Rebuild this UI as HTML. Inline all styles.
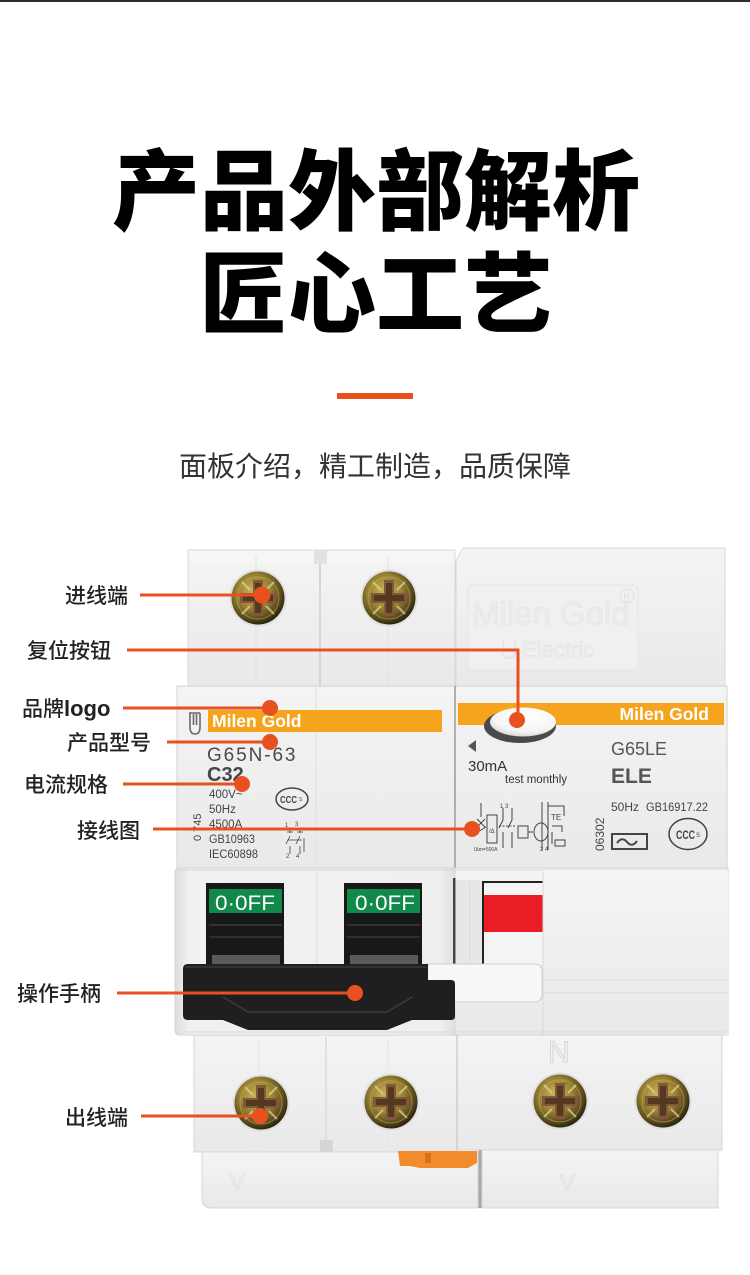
<!DOCTYPE html>
<html><head><meta charset="utf-8">
<style>
html,body{margin:0;padding:0;background:#fff;}
body{width:750px;height:1275px;overflow:hidden;position:relative;}
svg{position:absolute;left:0;top:0;}
</style></head>
<body>
<svg width="750" height="1275" viewBox="0 0 750 1275" font-family="'Liberation Sans','Noto Sans CJK SC',sans-serif">
<defs>
 <linearGradient id="gb" x1="0" y1="0" x2="0" y2="1">
  <stop offset="0" stop-color="#f4f4f4"/><stop offset="1" stop-color="#e9e9e9"/>
 </linearGradient>
 <linearGradient id="gh" x1="0" y1="0" x2="1" y2="0">
  <stop offset="0" stop-color="#dcdcdc"/><stop offset="0.05" stop-color="#f1f1f1"/><stop offset="0.95" stop-color="#efefef"/><stop offset="1" stop-color="#dedede"/>
 </linearGradient>
 <radialGradient id="gs" cx="0.42" cy="0.38" r="0.65">
  <stop offset="0" stop-color="#d0b85a"/><stop offset="0.5" stop-color="#968132"/><stop offset="0.8" stop-color="#58491c"/><stop offset="1" stop-color="#231c0a"/>
 </radialGradient>
 <radialGradient id="gbtn" cx="0.55" cy="0.35" r="0.7">
  <stop offset="0" stop-color="#ffffff"/><stop offset="0.7" stop-color="#f5f5f5"/><stop offset="1" stop-color="#d0d0d0"/>
 </radialGradient>
 <g id="screw">
  <circle r="28.5" fill="#e0e0e0"/>
  <circle r="26.5" fill="url(#gs)"/>
  <circle r="21" fill="none" stroke="#cdb466" stroke-width="1" opacity="0.5"/>
  <path d="M-5,-18h10v13h13v10h-13v13h-10v-13h-13v-10h13z" fill="#85573a"/>
  <path d="M-3,-15h6v12h12v6h-12v12h-6v-12h-12v-6h12z" fill="#3a2a14" opacity="0.65"/>
  <path d="M-16,-16L-8,-8M16,-16L8,-8M-16,16L-8,8M16,16L8,8" stroke="#e6d79a" stroke-width="2" opacity="0.7"/>
 </g>
</defs>

<!-- top line -->
<rect x="0" y="0" width="750" height="2" fill="#2d2d2d"/>

<!-- titles -->
<text x="376" y="223" text-anchor="middle" font-family="'Noto Sans CJK SC',sans-serif" font-size="88" font-weight="900" fill="#000">产品外部解析</text>
<text x="376" y="326" text-anchor="middle" font-family="'Noto Sans CJK SC',sans-serif" font-size="88" font-weight="900" fill="#000">匠心工艺</text>
<rect x="337" y="393" width="76" height="6" fill="#e8501e"/>
<text x="375" y="476" text-anchor="middle" font-family="'Noto Sans CJK SC',sans-serif" font-size="28" fill="#333">面板介绍，精工制造，品质保障</text>

<!-- ===== BREAKER ===== -->
<!-- top-left module -->
<rect x="188" y="550" width="267" height="138" fill="url(#gb)" stroke="#d8d8d8"/>
<rect x="189" y="551" width="265" height="12" fill="#f7f7f7" opacity="0.7"/>
<line x1="256" y1="556" x2="256" y2="686" stroke="#e1e1e1"/>
<line x1="320" y1="552" x2="320" y2="686" stroke="#d6d6d6" stroke-width="2"/>
<line x1="388" y1="556" x2="388" y2="686" stroke="#e1e1e1"/>
<rect x="314" y="550" width="13" height="14" fill="#e2e2e2"/>
<use href="#screw" x="258" y="598"/>
<use href="#screw" x="389" y="598"/>

<!-- top-right module -->
<path d="M463,548 H725 V688 H456 V561 Z" fill="url(#gb)" stroke="#d8d8d8"/>
<rect x="468" y="585" width="170" height="85" rx="5" fill="#f0f0f0" stroke="#e4e4e4"/>
<text x="472" y="625" font-size="33" fill="#ececec" stroke="#e2e2e2" stroke-width="0.6">Milen Gold</text>
<text x="522" y="657" font-size="22" fill="#ececec" stroke="#e2e2e2" stroke-width="0.6">Electric</text>
<path d="M503,640 v12 q0,6 6,6 q6,0 6,-6 v-12" fill="none" stroke="#e2e2e2" stroke-width="1.5"/>
<circle cx="627" cy="596" r="7" fill="none" stroke="#e0e0e0"/>
<text x="623.5" y="599.5" font-size="9" fill="#dedede">R</text>

<!-- middle left panel -->
<rect x="177" y="686" width="278" height="182" fill="url(#gb)" stroke="#d2d2d2"/>
<line x1="316" y1="688" x2="316" y2="866" stroke="#e0e0e0"/>
<rect x="208" y="710" width="234" height="22" fill="#f6a41d"/>
<text x="212" y="727" font-size="17.5" font-weight="bold" fill="#fff">Milen Gold</text>
<g fill="none" stroke="#6a6a6a" stroke-width="1.6">
 <path d="M189,713 h11 M190,713 v14 q0,7 5,7 q5,0 5,-7 v-14"/>
 <path d="M193.5,714 v11 M196.5,714 v11"/>
</g>
<text x="207" y="761" font-size="19" letter-spacing="1.9" fill="#4a4a4a">G65N-63</text>
<text x="207" y="781" font-size="20" font-weight="bold" fill="#474747">C32</text>
<g font-size="11.5" fill="#444">
 <text x="209" y="798">400V~</text>
 <text x="209" y="813">50Hz</text>
 <text x="209" y="828">4500A</text>
 <text x="209" y="843" textLength="46" lengthAdjust="spacingAndGlyphs">GB10963</text>
 <text x="209" y="858" textLength="49" lengthAdjust="spacingAndGlyphs">IEC60898</text>
</g>
<text x="0" y="0" font-size="11" fill="#444" transform="translate(201,841) rotate(-90)">0 745</text>
<ellipse cx="292" cy="799" rx="16" ry="11" fill="none" stroke="#444" stroke-width="1.5"/>
<text x="280" y="803" font-size="10" font-weight="bold" fill="#444" textLength="17" lengthAdjust="spacingAndGlyphs">CCC</text>
<text x="299" y="801" font-size="5" fill="#444">S</text>
<g stroke="#444" stroke-width="0.8" fill="none">
 <path d="M290,828v5 M300,828v5 M287,832h6 M297,832h6 M290,836 l-4,8 M300,836 l-4,8 M290,846v8 M300,846v8 M288,840h14 M304,838v14"/>
</g>
<text x="285" y="827" font-size="6" fill="#444">1</text>
<text x="295" y="826" font-size="6" fill="#444">3</text>
<text x="286" y="858" font-size="6" fill="#444">2</text>
<text x="296" y="858" font-size="6" fill="#444">4</text>

<!-- middle right panel -->
<rect x="455" y="686" width="272" height="182" fill="url(#gb)" stroke="#d2d2d2"/>
<line x1="455" y1="686" x2="455" y2="868" stroke="#9a9a9a" stroke-width="1.5"/>
<rect x="458" y="703" width="266" height="22" fill="#f6a41d"/>
<text x="709" y="720" text-anchor="end" font-size="17.5" font-weight="bold" fill="#fff">Milen Gold</text>
<ellipse cx="520" cy="726" rx="36" ry="17" fill="#4a4a4a"/>
<ellipse cx="523" cy="722" rx="33" ry="14.5" fill="url(#gbtn)"/>
<polygon points="468,746 476,740 476,752" fill="#555"/>
<text x="468" y="771" font-size="15" fill="#333">30mA</text>
<text x="505" y="783" font-size="11.5" fill="#333">test monthly</text>
<text x="611" y="755" font-size="18" fill="#555">G65LE</text>
<text x="611" y="783" font-size="21" font-weight="bold" fill="#555">ELE</text>
<text x="611" y="811" font-size="12" fill="#444">50Hz</text>
<text x="646" y="811" font-size="12" fill="#444" textLength="62" lengthAdjust="spacingAndGlyphs">GB16917.22</text>
<text x="0" y="0" font-size="12" fill="#444" transform="translate(604,851) rotate(-90)">06302</text>
<rect x="612" y="834" width="35" height="15" fill="none" stroke="#444" stroke-width="2"/>
<path d="M617,843 q5,-7 10,-1 q5,6 10,-1" fill="none" stroke="#444" stroke-width="2"/>
<ellipse cx="688" cy="834" rx="19" ry="15.5" fill="none" stroke="#444" stroke-width="1.5"/>
<text x="676" y="839" font-size="12" font-weight="bold" fill="#444" textLength="19" lengthAdjust="spacingAndGlyphs">CCC</text>
<text x="696" y="837" font-size="6" fill="#444">S</text>
<g stroke="#444" stroke-width="1" fill="none">
 <path d="M481,803v14 M477,819l8,8 M485,819l-8,8 M476,833l10,-6"/>
 <rect x="487" y="815" width="10" height="28"/>
 <path d="M503,808v12 l-4,8 M503,832v16 M512,808v12 l-4,8 M512,832v16"/>
 <path d="M499,826h16" stroke-dasharray="2,1.5"/>
 <rect x="518" y="826" width="10" height="12"/>
 <path d="M528,832 h5"/>
 <ellipse cx="541" cy="832" rx="7" ry="9"/>
 <path d="M542,802v48 M548,802v48 M548,806h16v10 M552,826h10v6 M552,832v12"/>
 <rect x="555" y="840" width="10" height="6"/>
</g>
<text x="489" y="833" font-size="6" fill="#444">/Δ</text>
<text x="551" y="820" font-size="8" fill="#444">TE</text>
<text x="474" y="851" font-size="5" fill="#444">IΔm=500A</text>
<text x="500" y="808" font-size="6" fill="#444">1 3</text>
<text x="540" y="851" font-size="6" fill="#444">2 4</text>

<!-- switch section -->
<rect x="175" y="868" width="280" height="167" rx="4" fill="url(#gh)" stroke="#d4d4d4"/>
<rect x="455" y="868" width="273" height="167" fill="url(#gb)" stroke="#d4d4d4"/>
<line x1="175" y1="870" x2="728" y2="870" stroke="#d6d6d6"/>
<line x1="317" y1="872" x2="317" y2="964" stroke="#dcdcdc"/>

<!-- toggles -->
<g>
 <rect x="206" y="883" width="78" height="82" fill="#181818"/>
 <rect x="209" y="889" width="73" height="24" fill="#0f8a4b"/>
 <text x="215" y="910" font-size="21" fill="#fff" textLength="60" lengthAdjust="spacingAndGlyphs">0·0FF</text>
 <rect x="209" y="924" width="73" height="2" fill="#333"/>
 <rect x="209" y="936" width="73" height="2" fill="#2e2e2e"/>
 <rect x="212" y="955" width="68" height="10" fill="#5a5a5a"/>
</g>
<g>
 <rect x="344" y="883" width="78" height="82" fill="#181818"/>
 <rect x="347" y="889" width="73" height="24" fill="#0f8a4b"/>
 <text x="355" y="910" font-size="21" fill="#fff" textLength="60" lengthAdjust="spacingAndGlyphs">0·0FF</text>
 <rect x="347" y="924" width="73" height="2" fill="#333"/>
 <rect x="347" y="936" width="73" height="2" fill="#2e2e2e"/>
 <rect x="350" y="955" width="68" height="10" fill="#5a5a5a"/>
</g>

<!-- RCD slot and red indicator -->
<rect x="453" y="878" width="2.5" height="90" fill="#444"/>
<rect x="456" y="880" width="26" height="84" fill="#e7e7e7"/>
<line x1="470" y1="882" x2="470" y2="962" stroke="#dadada"/>
<rect x="482" y="881" width="61" height="83" fill="#f4f4f4"/>
<rect x="482" y="881" width="61" height="2" fill="#222"/>
<rect x="482" y="881" width="2" height="83" fill="#222"/>
<rect x="484" y="895" width="59" height="37" fill="#ea1c24"/>
<rect x="543" y="870" width="185" height="165" fill="url(#gb)"/>
<line x1="543" y1="872" x2="543" y2="1035" stroke="#d8d8d8"/>
<line x1="543" y1="980" x2="727" y2="980" stroke="#dcdcdc"/>
<line x1="543" y1="993" x2="727" y2="993" stroke="#d8d8d8"/>
<line x1="455" y1="1032" x2="727" y2="1032" stroke="#dadada"/>

<!-- white RCD handle arm -->
<path d="M426,964 H534 Q542,964 542,972 V994 Q542,1002 534,1002 H426 Z" fill="#f8f8f8" stroke="#cfcfcf"/>

<!-- black handle -->
<path d="M188,964 H428 V980 H451 Q455,980 455,984 V1016 Q455,1020 451,1020 H412 L387,1030 H248 L223,1020 H188 Q183,1020 183,1015 V969 Q183,964 188,964 Z" fill="#1f1f1f"/>
<path d="M186,967 H426" stroke="#3a3a3a" stroke-width="1.5"/>
<polyline points="223,997 248,1012 387,1012 412,997" fill="none" stroke="#3b3b3b" stroke-width="1.5"/>
<line x1="183" y1="1032" x2="455" y2="1032" stroke="#d8d8d8"/>

<!-- bottom terminal section -->
<rect x="194" y="1035" width="263" height="117" fill="url(#gb)" stroke="#d4d4d4"/>
<line x1="326" y1="1037" x2="326" y2="1150" stroke="#dadada" stroke-width="1.5"/>
<line x1="259" y1="1040" x2="259" y2="1148" stroke="#e6e6e6"/>
<line x1="388" y1="1040" x2="388" y2="1148" stroke="#e6e6e6"/>
<rect x="320" y="1140" width="13" height="12" fill="#d6d6d6"/>
<rect x="457" y="1035" width="265" height="115" fill="url(#gb)" stroke="#d4d4d4"/>
<line x1="457" y1="1035" x2="457" y2="1150" stroke="#bdbdbd"/>
<text x="548" y="1062" font-size="30" fill="none" stroke="#d6d6d6" stroke-width="1">N</text>
<use href="#screw" x="261" y="1103"/>
<use href="#screw" x="391" y="1102"/>
<use href="#screw" x="560" y="1101"/>
<use href="#screw" x="663" y="1101"/>

<!-- base -->
<path d="M202,1152 H478 V1208 H212 Q202,1208 202,1198 Z" fill="url(#gb)" stroke="#d6d6d6"/>
<rect x="482" y="1150" width="236" height="58" fill="url(#gb)" stroke="#d6d6d6"/>
<rect x="478.5" y="1150" width="3" height="58" fill="#a8a8a8"/>
<path d="M398,1151 H477 V1163 L468,1168 H420 L410,1166 H400 Z" fill="#f28b2c"/>
<rect x="425" y="1153" width="6" height="10" fill="#d7701a"/>
<text x="230" y="1190" font-size="22" fill="none" stroke="#e0e0e0" stroke-width="0.8">V</text>
<text x="560" y="1190" font-size="22" fill="none" stroke="#e0e0e0" stroke-width="0.8">V</text>

<!-- ===== CALLOUT LINES ===== -->
<g stroke="#e8501f" stroke-width="3" fill="none">
 <line x1="140" y1="595" x2="262" y2="595"/>
 <polyline points="127,650 518,650 518,720" stroke-linejoin="miter"/>
 <line x1="123" y1="708" x2="270" y2="708"/>
 <line x1="167" y1="742" x2="270" y2="742"/>
 <line x1="123" y1="784" x2="242" y2="784"/>
 <line x1="153" y1="829" x2="472" y2="829"/>
 <line x1="117" y1="993" x2="355" y2="993"/>
 <line x1="141" y1="1116" x2="260" y2="1116"/>
</g>
<g fill="#e8501f">
 <circle cx="262" cy="595" r="8.5"/>
 <circle cx="517" cy="720" r="8"/>
 <circle cx="270" cy="708" r="8"/>
 <circle cx="270" cy="742" r="8"/>
 <circle cx="242" cy="784" r="8"/>
 <circle cx="472" cy="829" r="8"/>
 <circle cx="355" cy="993" r="8"/>
 <circle cx="260" cy="1116" r="8"/>
</g>

<!-- labels -->
<g font-family="'Noto Sans CJK SC',sans-serif" font-size="21" fill="#222" font-weight="500">
 <text x="65" y="603">进线端</text>
 <text x="27" y="658">复位按钮</text>
 <text x="22" y="716">品牌<tspan font-family="'Liberation Sans','Noto Sans CJK SC',sans-serif" font-weight="bold" font-size="22">logo</tspan></text>
 <text x="67" y="750">产品型号</text>
 <text x="24" y="792">电流规格</text>
 <text x="77" y="838">接线图</text>
 <text x="17" y="1001">操作手柄</text>
 <text x="65" y="1125">出线端</text>
</g>
</svg>
</body></html>
